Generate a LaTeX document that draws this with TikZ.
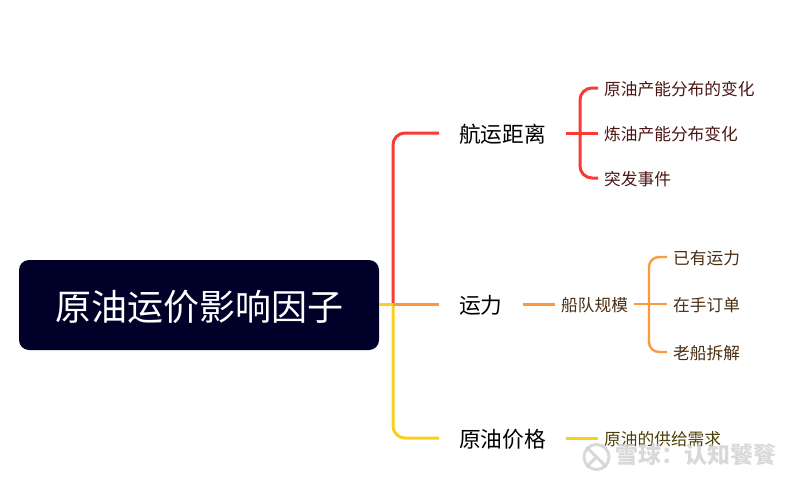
\documentclass[tikz,border=0pt]{standalone}
\usepackage{fontspec}
\setmainfont{Noto Sans CJK SC}
\usepackage{xcolor}
\usetikzlibrary{positioning}
\definecolor{rootfill}{HTML}{000028}
\definecolor{redline}{HTML}{F93A35}
\definecolor{orangeline}{HTML}{FA9A3C}
\definecolor{yellowline}{HTML}{F7D11E}
\definecolor{redtext}{HTML}{4A1512}
\definecolor{orangetext}{HTML}{4A2E12}
\definecolor{yellowtext}{HTML}{4A3F08}
\definecolor{marktext}{HTML}{D0D0D0}
\tikzset{
    rootbox/.style={fill=rootfill, rounded corners=10, text=white, minimum width=360, minimum height=90, inner sep=0, text height=36, text depth=5.6, font=\fontsize{36}{42}\selectfont},
    mainbox/.style={anchor=west, inner xsep=20, inner ysep=0, text height=22, text depth=3.6, font=\fontsize{21.7}{26}\selectfont},
    leafbox/.style={anchor=west, inner xsep=6, inner ysep=0, text height=17, text depth=3, font=\fontsize{16.7}{20}\selectfont},
    wire/.style={line width=3, rounded corners=12},
    thinwire/.style={line width=2.4, rounded corners=10},
    markbox/.style={anchor=west, inner sep=0, text=marktext, opacity=0.8, font=\fontsize{23}{28}\selectfont\bfseries}
}
\begin{document}
\begin{tikzpicture}[x=1pt, y=-1pt]
\useasboundingbox (0, 0) rectangle (800, 479);
\node[rootbox] (root) at (199, 305) {原油运价影响因子};
\coordinate (trunk) at (393, 304);
% first level
\node[mainbox] (dist) at (439, 133) {航运距离};
\node[mainbox] (cap) at (439, 304) {运力};
\node[mainbox] (price) at (439, 438) {原油价格};
% distance
\node[leafbox, text=redtext] (d1) at (598, 88) {原油产能分布的变化};
\node[leafbox, text=redtext] (d2) at (598, 133) {炼油产能分布变化};
\node[leafbox, text=redtext] (d3) at (598, 178) {突发事件};
\coordinate (dfork) at (580, 133);
% capacity
\node[leafbox, text=orangetext] (fleet) at (555, 304) {船队规模};
\node[leafbox, text=orangetext] (c1) at (667, 257) {已有运力};
\node[leafbox, text=orangetext] (c2) at (667, 304) {在手订单};
\node[leafbox, text=orangetext] (c3) at (667, 352) {老船拆解};
\coordinate (cfork) at (649, 304);
% price
\node[leafbox, text=yellowtext] (p1) at (598, 438) {原油的供给需求};
% connectors
\draw[wire, redline] (trunk) |- (dist.west);
\draw[wire, yellowline] (root.east |- trunk) -- (trunk);
\draw[wire, yellowline] (trunk) |- (price.west);
\draw[wire, orangeline] (trunk) -- (cap.west);
\draw[wire, redline] (dist.east) -- (d2.west);
\draw[wire, redline] (dfork) |- (d1.west);
\draw[wire, redline] (dfork) |- (d3.west);
\draw[wire, orangeline] (cap.east) -- (fleet.west);
\draw[thinwire, orangeline] (fleet.east) -- (c2.west);
\draw[thinwire, orangeline] (cfork) |- (c1.west);
\draw[thinwire, orangeline] (cfork) |- (c3.west);
\draw[wire, yellowline] (price.east) -- (p1.west);
% watermark
\node[circle, draw=marktext, line width=3, minimum size=25, inner sep=0, opacity=0.8] (logo) at (596.5, 457) {};
\draw[marktext, line width=3, opacity=0.8] (logo.north west) -- (logo.south east) (logo.south west) -- (logo.center);
\node[markbox] (mark) at (615, 455) {雪球：认知饕餮};
\end{tikzpicture}
\end{document}
